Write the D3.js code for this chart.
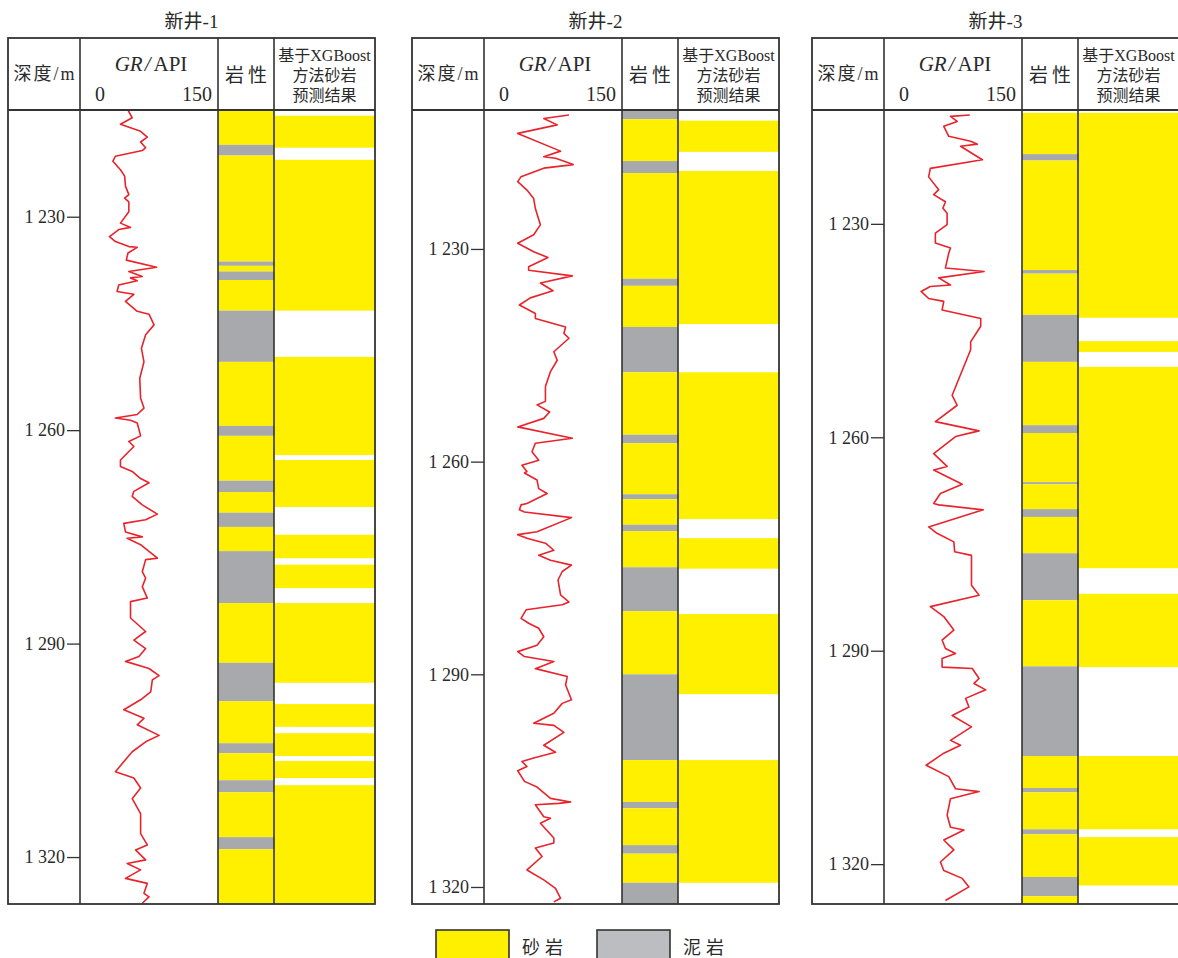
<!DOCTYPE html>
<html>
<head>
<meta charset="utf-8">
<script src="https://cdn.jsdelivr.net/npm/d3@7"></script>
<style>
  body { margin: 0; background: #fff; }
  text { font-family: "Liberation Serif", "Noto Sans CJK SC", serif; fill: #2a2a2a; }
</style>
</head>
<body>
<script>
// ---- data ----
const wellNames = ["新井-1", "新井-2", "新井-3"]
const depthTicks = [1230, 1260, 1290, 1320]
const depthRanges = [[1215.0, 1326.6], [1210.4, 1322.4], [1214.0, 1325.6]]
const grDomain = [0, 150]
const legendLabels = ["砂岩", "泥岩"]

// lithology intervals [top, bottom, type]
const well1Lith = [
  [1215.0, 1219.9, "sand"], [1219.9, 1221.4, "mud"], [1221.4, 1236.3, "sand"], [1236.3, 1236.9, "mud"],
  [1236.9, 1237.7, "sand"], [1237.7, 1238.9, "mud"], [1238.9, 1243.2, "sand"], [1243.2, 1250.4, "mud"],
  [1250.4, 1259.4, "sand"], [1259.4, 1260.8, "mud"], [1260.8, 1267.1, "sand"], [1267.1, 1268.7, "mud"],
  [1268.7, 1271.6, "sand"], [1271.6, 1273.6, "mud"], [1273.6, 1277.0, "sand"], [1277.0, 1284.3, "mud"],
  [1284.3, 1292.7, "sand"], [1292.7, 1298.1, "mud"], [1298.1, 1304.0, "sand"], [1304.0, 1305.4, "mud"],
  [1305.4, 1309.2, "sand"], [1309.2, 1310.9, "mud"], [1310.9, 1317.2, "sand"], [1317.2, 1318.9, "mud"],
  [1318.9, 1326.6, "sand"]
]
const well2Lith = [
  [1210.4, 1211.7, "mud"], [1211.7, 1217.6, "sand"], [1217.6, 1219.3, "mud"], [1219.3, 1234.2, "sand"],
  [1234.2, 1235.2, "mud"], [1235.2, 1241.0, "sand"], [1241.0, 1247.4, "mud"], [1247.4, 1256.2, "sand"],
  [1256.2, 1257.4, "mud"], [1257.4, 1264.6, "sand"], [1264.6, 1265.3, "mud"], [1265.3, 1268.9, "sand"],
  [1268.9, 1269.8, "mud"], [1269.8, 1274.9, "sand"], [1274.9, 1281.1, "mud"], [1281.1, 1290.0, "sand"],
  [1290.0, 1302.1, "mud"], [1302.1, 1308.0, "sand"], [1308.0, 1308.9, "mud"], [1308.9, 1314.1, "sand"],
  [1314.1, 1315.3, "mud"], [1315.3, 1319.4, "sand"], [1319.4, 1322.4, "mud"]
]
const well3Lith = [
  [1214.4, 1220.2, "sand"], [1220.2, 1221.1, "mud"], [1221.1, 1236.5, "sand"], [1236.5, 1237.0, "mud"],
  [1237.0, 1242.8, "sand"], [1242.8, 1249.4, "mud"], [1249.4, 1258.3, "sand"], [1258.3, 1259.4, "mud"],
  [1259.4, 1266.3, "sand"], [1266.3, 1266.6, "mud"], [1266.6, 1270.1, "sand"], [1270.1, 1271.2, "mud"],
  [1271.2, 1276.3, "sand"], [1276.3, 1282.9, "mud"], [1282.9, 1292.2, "sand"], [1292.2, 1304.8, "mud"],
  [1304.8, 1309.3, "sand"], [1309.3, 1309.9, "mud"], [1309.9, 1315.1, "sand"], [1315.1, 1315.8, "mud"],
  [1315.8, 1321.8, "sand"], [1321.8, 1324.5, "mud"], [1324.5, 1325.6, "sand"]
]

// XGBoost predicted sandstone intervals [top, bottom]
const well1Pred = [
  [1215.8, 1220.3], [1222.0, 1243.2], [1249.7, 1263.5], [1264.2, 1270.8], [1274.7, 1278.0], [1278.9, 1282.2],
  [1284.3, 1295.5], [1298.5, 1301.7], [1302.6, 1305.8], [1306.5, 1308.9], [1309.9, 1326.6]
]
const well2Pred = [
  [1211.9, 1216.3], [1219.0, 1240.6], [1247.4, 1268.1], [1270.8, 1275.1], [1281.5, 1292.8], [1302.1, 1319.4]
]
const well3Pred = [
  [1214.4, 1243.2], [1246.5, 1248.0], [1250.1, 1278.4], [1282.0, 1292.3], [1304.8, 1315.1], [1316.2, 1323.0]
]

// GR curves [depth, API]
const well1GR = [
  [1215.0,50],[1216.1,55],[1217.0,41],[1218.0,65],[1218.8,73],[1219.5,65],[1220.3,71],[1220.7,67],[1221.5,35],
  [1222.2,32],[1223.4,41],[1224.3,46],[1225.7,47],[1226.9,51],[1227.4,46],[1227.9,51],[1229.3,51],[1230.9,41],
  [1231.5,53],[1231.8,39],[1232.8,28],[1233.5,35],[1234.2,51],[1234.3,61],[1235.1,50],[1236.1,48],[1237.1,84],
  [1237.7,51],[1238.4,67],[1238.6,53],[1239.0,61],[1239.6,39],[1240.5,37],[1240.9,57],[1241.9,47],[1243.3,61],
  [1243.7,75],[1245.2,81],[1246.6,71],[1248.5,66],[1250.4,69],[1252.7,64],[1255.5,65],[1256.9,69],[1257.8,61],
  [1258.3,35],[1258.6,53],[1259.0,61],[1260.8,65],[1261.6,51],[1262.3,57],[1264.2,41],[1265.1,41],[1265.8,55],
  [1266.8,65],[1267.4,75],[1268.6,57],[1269.3,55],[1270.5,67],[1271.8,85],[1272.6,71],[1273.1,45],[1274.3,47],
  [1275.0,67],[1275.2,49],[1276.1,65],[1278.0,85],[1278.2,71],[1279.9,67],[1280.8,71],[1282.0,67],[1283.6,73],
  [1284.1,53],[1286.4,53],[1288.3,71],[1289.5,57],[1290.7,71],[1291.8,63],[1292.5,47],[1293.5,75],[1294.5,87],
  [1295.1,79],[1296.8,77],[1297.9,65],[1299.3,45],[1300.5,69],[1301.4,61],[1302.9,87],[1303.8,71],[1305.2,55],
  [1308.0,35],[1308.9,57],[1310.3,65],[1311.8,55],[1313.9,65],[1316.7,65],[1318.3,73],[1319.0,59],[1320.4,71],
  [1320.9,49],[1321.8,65],[1323.0,47],[1323.7,73],[1325.1,69],[1325.6,75],[1326.5,67]
]
const well2GR = [
  [1211.1,94],[1211.6,64],[1212.5,80],[1213.7,33],[1216.2,84],[1217.0,64],[1217.2,78],[1217.7,90],[1218.1,99],
  [1218.6,64],[1219.8,37],[1220.5,33],[1221.7,44],[1222.9,52],[1224.3,54],[1226.6,60],[1228.0,52],[1229.2,33],
  [1230.4,52],[1231.2,69],[1232.5,46],[1233.0,46],[1233.8,98],[1234.8,60],[1235.9,75],[1236.9,48],[1237.9,35],
  [1239.1,54],[1239.8,54],[1241.0,90],[1241.9,88],[1242.6,94],[1244.5,76],[1245.7,80],[1247.3,72],[1249.4,66],
  [1251.5,66],[1252.0,56],[1253.0,71],[1253.9,64],[1255.1,33],[1256.7,98],[1257.4,54],[1258.6,50],[1259.8,58],
  [1260.5,38],[1261.4,44],[1261.6,41],[1262.6,56],[1263.8,58],[1264.5,68],[1265.9,44],[1266.1,37],[1266.8,35],
  [1267.1,41],[1267.9,97],[1269.9,56],[1270.3,33],[1270.8,44],[1271.5,66],[1272.5,76],[1273.2,58],[1273.9,72],
  [1274.6,97],[1275.5,86],[1276.7,81],[1278.8,84],[1279.8,94],[1280.2,86],[1280.9,43],[1282.1,37],[1282.8,46],
  [1283.5,58],[1284.7,64],[1285.9,56],[1286.8,33],[1287.5,41],[1288.2,76],[1289.2,54],[1290.3,92],[1291.5,90],
  [1293.6,97],[1294.1,86],[1295.5,76],[1296.9,52],[1297.2,76],[1298.2,88],[1300.0,64],[1301.0,78],[1301.8,52],
  [1302.3,38],[1303.0,44],[1303.6,33],[1305.1,41],[1305.9,56],[1307.5,72],[1308.0,96],[1308.2,82],[1308.4,54],
  [1310.1,64],[1310.3,72],[1311.0,60],[1313.1,76],[1313.8,76],[1314.5,54],[1315.7,62],[1317.6,44],[1319.0,64],
  [1320.2,78],[1321.6,84],[1322.1,76]
]
const well3GR = [
  [1214.7,95],[1214.9,72],[1215.6,80],[1216.3,64],[1217.7,70],[1218.4,96],[1218.8,104],[1219.1,84],[1221.0,110],
  [1222.2,48],[1223.4,46],[1225.2,58],[1225.9,52],[1226.9,66],[1227.8,63],[1228.5,68],[1230.1,68],[1231.3,54],
  [1232.7,54],[1233.4,72],[1234.1,70],[1236.2,66],[1236.7,112],[1237.6,58],[1238.6,72],[1238.8,48],[1239.5,37],
  [1240.5,46],[1240.9,64],[1242.1,62],[1243.3,108],[1244.4,108],[1246.6,96],[1247.7,96],[1254.1,74],[1255.5,80],
  [1257.8,54],[1259.1,106],[1259.9,78],[1262.3,52],[1264.1,68],[1264.6,52],[1266.6,86],[1267.9,60],[1269.3,52],
  [1269.5,58],[1270.2,111],[1272.6,46],[1273.5,56],[1274.7,76],[1276.1,77],[1276.6,97],[1280.8,97],[1282.2,106],
  [1283.8,48],[1285.2,64],[1287.1,76],[1288.5,62],[1289.7,66],[1290.4,78],[1291.1,62],[1292.3,62],[1292.5,98],
  [1293.9,106],[1294.6,100],[1295.5,114],[1296.7,90],[1297.9,94],[1299.1,74],[1300.7,97],[1302.6,72],[1303.3,84],
  [1304.4,64],[1306.1,43],[1307.7,70],[1309.4,78],[1309.8,106],[1310.8,72],[1313.1,68],[1314.8,72],[1315.2,88],
  [1316.6,64],[1318.0,76],[1319.7,60],[1320.9,64],[1322.0,86],[1323.2,94],[1325.1,66]
]

const lithData = [well1Lith, well2Lith, well3Lith]
const predData = [well1Pred, well2Pred, well3Pred]
const grData = [well1GR, well2GR, well3GR]

// ---- layout ----
let w = 1178
let h = 958
let panelX = [8, 412, 812]
let colW = [72, 138, 56, 101]
let frameTop = 38
let headBottom = 110
let plotBottom = 904

const sandColor = "#fff000"
const mudColor = "#a8a9ac"
const lineColor = "#333"

let svg = d3.select("body")
  .append("svg")
  .attr("width", w)
  .attr("height", h)

wellNames.forEach((name, i) => {
  let g = svg.append("g").attr("transform", "translate(" + panelX[i] + ",0)")

  let x1 = colW[0]
  let x2 = x1 + colW[1]
  let x3 = x2 + colW[2]
  let x4 = x3 + colW[3]

  let depthScale = d3.scaleLinear()
    .domain(depthRanges[i])
    .range([headBottom, plotBottom])

  let grScale = d3.scaleLinear()
    .domain(grDomain)
    .range([x1 + 6, x2 - 6])

  // lithology column
  g.selectAll("rect.lith")
    .data(lithData[i])
    .enter()
    .append("rect")
    .attr("class", "lith")
    .attr("x", x2)
    .attr("width", x3 - x2)
    .attr("y", d => depthScale(d[0]))
    .attr("height", d => depthScale(d[1]) - depthScale(d[0]))
    .style("fill", d => d[2] == "sand" ? sandColor : mudColor)

  // prediction column
  g.selectAll("rect.pred")
    .data(predData[i])
    .enter()
    .append("rect")
    .attr("class", "pred")
    .attr("x", x3)
    .attr("width", x4 - x3)
    .attr("y", d => depthScale(d[0]))
    .attr("height", d => depthScale(d[1]) - depthScale(d[0]))
    .style("fill", sandColor)

  // GR curve
  let line = d3.line()
    .x(d => grScale(d[1]))
    .y(d => depthScale(d[0]))

  g.append("path")
    .datum(grData[i])
    .attr("d", line)
    .attr("fill", "none")
    .attr("stroke", "#e8232b")
    .attr("stroke-width", 1.6)
    .attr("stroke-linejoin", "round")

  // frame
  g.append("rect")
    .attr("x", 0)
    .attr("y", frameTop)
    .attr("width", x4)
    .attr("height", plotBottom - frameTop)
    .attr("fill", "none")
    .attr("stroke", lineColor)
    .attr("stroke-width", 1.8)

  g.append("line")
    .attr("x1", 0).attr("x2", x4)
    .attr("y1", headBottom).attr("y2", headBottom)
    .attr("stroke", lineColor).attr("stroke-width", 1.8)

  ;[x1, x2, x3].forEach(x => {
    g.append("line")
      .attr("x1", x).attr("x2", x)
      .attr("y1", frameTop).attr("y2", plotBottom)
      .attr("stroke", lineColor).attr("stroke-width", 1.6)
  })

  // depth axis
  let depthAxis = d3.axisLeft(depthScale)
    .tickValues(depthTicks)
    .tickSize(13)
    .tickPadding(2)
    .tickFormat(d => { let s = String(d); return s[0] + " " + s.slice(1) })

  let ax = g.append("g")
    .attr("transform", "translate(" + x1 + ",0)")
    .call(depthAxis)
  ax.select(".domain").remove()
  ax.selectAll("line").attr("stroke", lineColor).attr("stroke-width", 1.3)
  ax.selectAll("text")
    .attr("font-family", "Liberation Serif")
    .attr("font-size", 18)
    .attr("fill", "#2a2a2a")

  // title
  g.append("text")
    .attr("x", x4 / 2)
    .attr("y", 28)
    .attr("text-anchor", "middle")
    .attr("font-size", 19)
    .text(name)

  // headers
  g.append("text")
    .attr("x", x1 / 2 + 1)
    .attr("y", 80)
    .attr("text-anchor", "middle")
    .attr("font-size", 18)
    .attr("letter-spacing", 2)
    .text("深度/m")

  let grTitle = g.append("text")
    .attr("x", (x1 + x2) / 2 + 2)
    .attr("y", 71)
    .attr("text-anchor", "middle")
    .attr("font-size", 21)
  grTitle.append("tspan").attr("font-style", "italic").text("GR")
  grTitle.append("tspan").attr("dx", 2).attr("font-style", "italic").text("/")
  grTitle.append("tspan").attr("dx", 3).text("API")

  g.append("text")
    .attr("x", x1 + 20)
    .attr("y", 101)
    .attr("text-anchor", "middle")
    .attr("font-size", 20)
    .text(grDomain[0])

  g.append("text")
    .attr("x", x2 - 6)
    .attr("y", 101)
    .attr("text-anchor", "end")
    .attr("font-size", 20)
    .text(grDomain[1])

  g.append("text")
    .attr("x", (x2 + x3) / 2 + 2)
    .attr("y", 82)
    .attr("text-anchor", "middle")
    .attr("font-size", 19)
    .attr("letter-spacing", 4)
    .text("岩性")

  let predLines = ["基于XGBoost", "方法砂岩", "预测结果"]
  predLines.forEach((t, j) => {
    g.append("text")
      .attr("x", (x3 + x4) / 2)
      .attr("y", 61 + j * 20)
      .attr("text-anchor", "middle")
      .attr("font-size", 16)
      .text(t)
  })
})

// legend
let legendX = [436, 597]
legendLabels.forEach((lab, i) => {
  svg.append("rect")
    .attr("x", legendX[i])
    .attr("y", 930)
    .attr("width", 73)
    .attr("height", 34)
    .attr("fill", i == 0 ? sandColor : "#bcbdc0")
    .attr("stroke", lineColor)
    .attr("stroke-width", 1.6)

  svg.append("text")
    .attr("x", legendX[i] + 86)
    .attr("y", 954)
    .attr("font-size", 18)
    .attr("letter-spacing", 5)
    .text(lab)
})
</script>
</body>
</html>
